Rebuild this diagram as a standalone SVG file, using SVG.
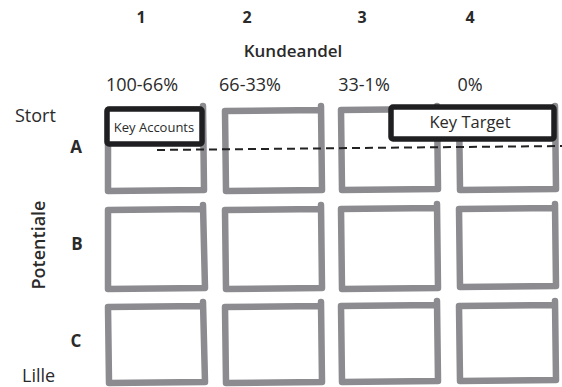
<svg xmlns="http://www.w3.org/2000/svg" width="562" height="387" viewBox="0 0 562 387">
<style>
text{font-family:"Open Sans","Liberation Sans",sans-serif;fill:#2a2a2a}
.b{font-weight:bold}
.l{font-size:18px}
.cell{fill:none;stroke:#8b8b90;stroke-width:6.5;stroke-linecap:round;stroke-linejoin:round}
.key{fill:#fff;stroke:#1f1f22;stroke-width:5.5;stroke-linejoin:round}
.dash{stroke:#222;stroke-width:2;stroke-dasharray:8 5;fill:none}
</style>
<rect width="562" height="387" fill="#fff"/>
<g id="headers">
<text class="b" x="141" y="23" font-size="16" text-anchor="middle">1</text>
<text class="b" x="247" y="23" font-size="16" text-anchor="middle">2</text>
<text class="b" x="362" y="23" font-size="16" text-anchor="middle">3</text>
<text class="b" x="470" y="23" font-size="16" text-anchor="middle">4</text>
<text x="293" y="57" font-size="17" font-weight="600" text-anchor="middle">Kundeandel</text>
<text class="l" x="142" y="91" text-anchor="middle">100-66%</text>
<text class="l" x="250" y="91" text-anchor="middle">66-33%</text>
<text class="l" x="364" y="91" text-anchor="middle">33-1%</text>
<text class="l" x="470" y="91" text-anchor="middle">0%</text>
<text class="l" x="15" y="122">Stort</text>
<text class="l" x="22" y="382">Lille</text>
<text class="b" x="76" y="153" font-size="17" text-anchor="middle">A</text>
<text class="b" x="77" y="250" font-size="17" text-anchor="middle">B</text>
<text class="b" x="76" y="347" font-size="17" text-anchor="middle">C</text>
<text x="0" y="0" font-size="18" font-weight="600" text-anchor="middle" transform="translate(45 245) rotate(-90)">Potentiale</text>
</g>
<g id="grid">
<g id="A1"><path class="cell" d="M108 110 L203 109 M203 106 L204 190 L108 191 L108 110"/></g>
<g id="A2"><path class="cell" d="M225 111 L321 110 M321 106 L322 190 L226 191 L225 111"/></g>
<g id="A3"><path class="cell" d="M341 110 L437 109 M437 106 L438 189 L342 190 L341 110"/></g>
<g id="A4"><path class="cell" d="M459 110 L555 109 M555 106 L556 189 L460 190 L459 110"/></g>
<g id="B1"><path class="cell" d="M108 210 L203 209 M203 205 L205 288 L108 289 L108 210"/></g>
<g id="B2"><path class="cell" d="M225 210 L321 209 M321 205 L322 288 L226 289 L225 210"/></g>
<g id="B3"><path class="cell" d="M341 209 L437 208 M437 204 L438 288 L342 289 L341 209"/></g>
<g id="B4"><path class="cell" d="M459 209 L555 208 M555 204 L556 286 L460 287 L459 209"/></g>
<g id="C1"><path class="cell" d="M108 307 L203 306 M203 302 L205 382 L109 383 L108 307"/></g>
<g id="C2"><path class="cell" d="M225 307 L321 306 M321 302 L322 382 L226 383 L225 307"/></g>
<g id="C3"><path class="cell" d="M341 306 L437 305 M437 301 L438 381 L342 382 L341 306"/></g>
<g id="C4"><path class="cell" d="M459 306 L555 305 M555 301 L556 380 L460 381 L459 306"/></g>
</g>
<g id="connectors">
<path class="dash" d="M157 150 L562 146"/>
</g>
<g id="key-accounts">
<rect class="key" x="107" y="109" width="95" height="35" rx="2"/>
<text x="154" y="132" font-size="13" text-anchor="middle">Key Accounts</text>
</g>
<g id="key-target">
<rect class="key" x="391" y="107" width="163" height="32" rx="2"/>
<text x="470" y="128" font-size="16.5" text-anchor="middle">Key Target</text>
</g>
</svg>
